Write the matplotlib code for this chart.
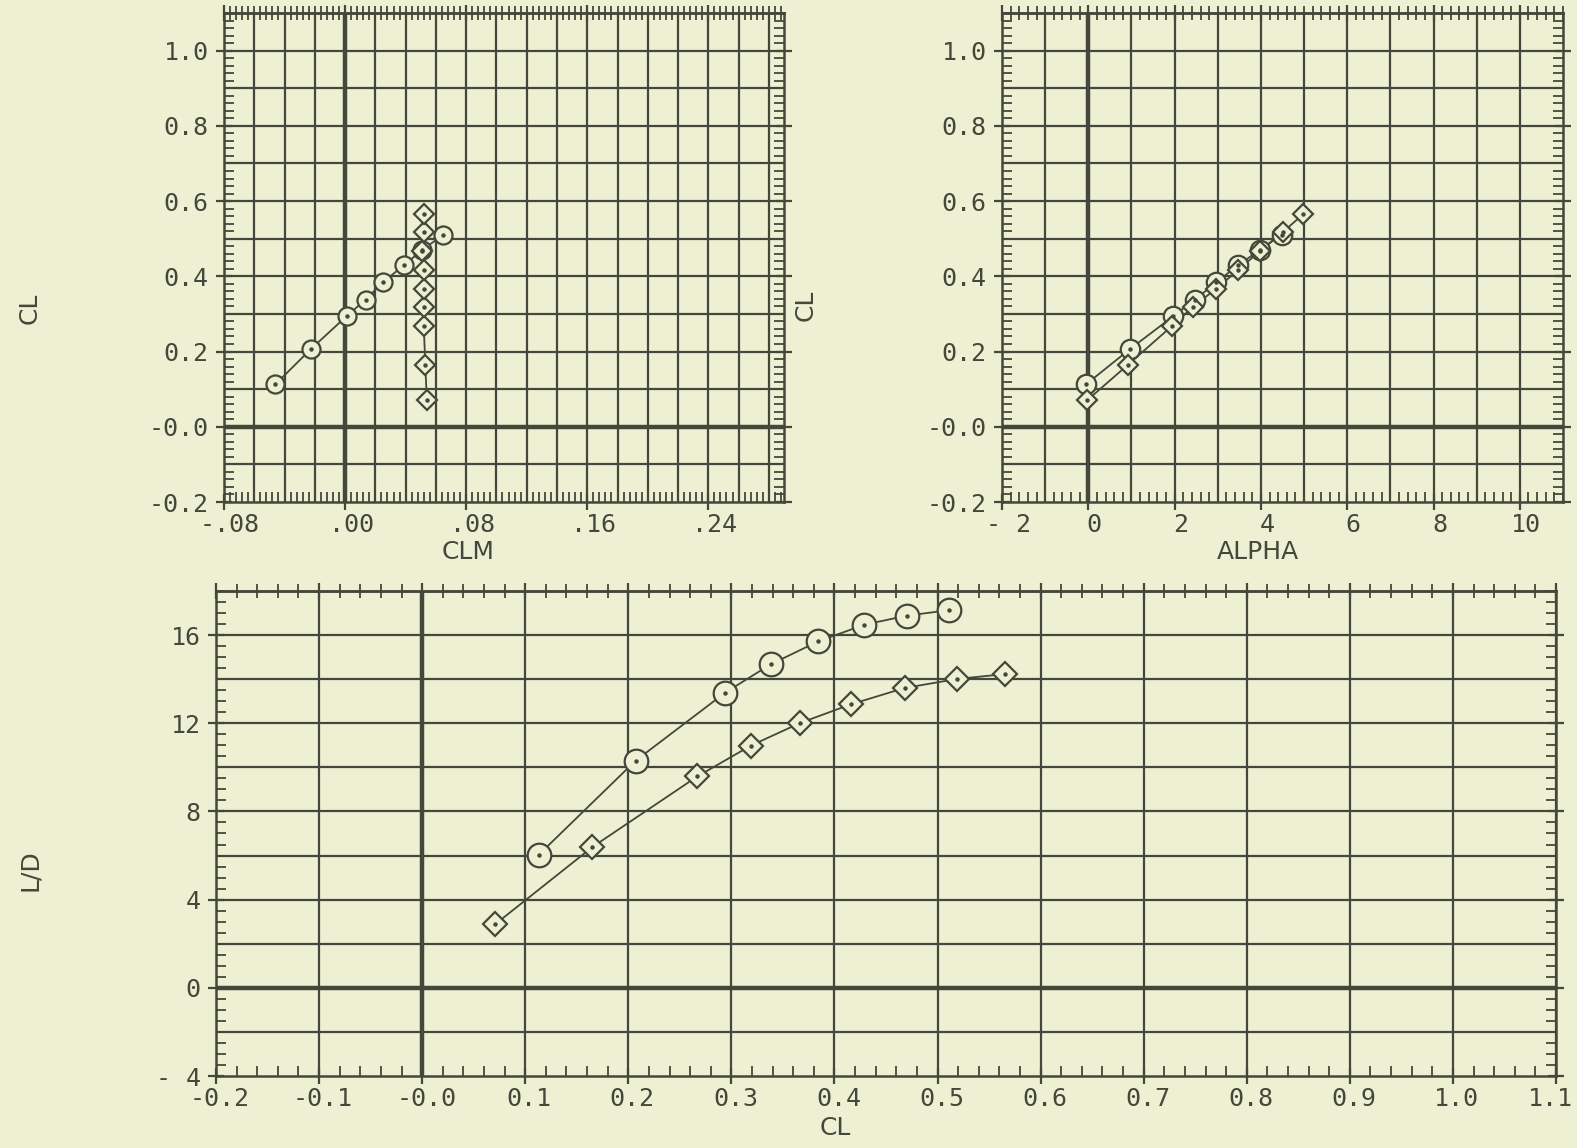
import numpy as np
import matplotlib
matplotlib.use('Agg')
import matplotlib.pyplot as plt
import matplotlib.transforms as mtransforms
from matplotlib.ticker import FixedLocator, FixedFormatter, NullFormatter

# ---------------- data ----------------
# series 1 (circles)
alpha_circ = [-0.05, 0.97, 1.97, 2.47, 2.97, 3.46, 3.98, 4.48]
cl_circ = [0.113, 0.207, 0.294, 0.338, 0.384, 0.429, 0.470, 0.511]
clm_circ = [-0.046, -0.0225, 0.001, 0.0135, 0.025, 0.0387, 0.051, 0.065]
ld_circ = [6.03, 10.30, 13.39, 14.67, 15.71, 16.47, 16.88, 17.13]

# series 2 (diamonds)
alpha_diam = [-0.02, 0.92, 1.93, 2.43, 2.96, 3.47, 3.98, 4.52, 4.98]
cl_diam = [0.071, 0.165, 0.267, 0.319, 0.367, 0.416, 0.468, 0.519, 0.565]
clm_diam = [0.054, 0.053, 0.052, 0.052, 0.052, 0.052, 0.051, 0.052, 0.052]
ld_diam = [2.89, 6.38, 9.59, 10.99, 12.02, 12.86, 13.60, 14.01, 14.23]

# tick labels
clm_ticks = [-0.08, 0.0, 0.08, 0.16, 0.24]
clm_labels = ['-.08', '.00', '.08', '.16', '.24']
alpha_ticks = [-2, 0, 2, 4, 6, 8, 10]
alpha_labels = ['- 2', '0', '2', '4', '6', '8', '10']
cl_yticks = [-0.2, 0.0, 0.2, 0.4, 0.6, 0.8, 1.0]
cl_ylabels = ['-0.2', '-0.0', '0.2', '0.4', '0.6', '0.8', '1.0']
cl_xticks = [-0.2, -0.1, 0.0, 0.1, 0.2, 0.3, 0.4, 0.5, 0.6, 0.7, 0.8, 0.9, 1.0, 1.1]
cl_xlabels = ['-0.2', '-0.1', '-0.0', '0.1', '0.2', '0.3', '0.4', '0.5',
              '0.6', '0.7', '0.8', '0.9', '1.0', '1.1']
ld_ticks = [-4, 0, 4, 8, 12, 16]
ld_labels = ['- 4', '0', '4', '8', '12', '16']

# ---------------- style ----------------
BG = '#eef0d4'
INK = '#45473a'
MONO = 'DejaVu Sans Mono'
SANS = 'DejaVu Sans'
TICKFS = 18
LABFS = 18

W, H = 1577, 1148
fig = plt.figure(figsize=(W / 100, H / 100), dpi=100, facecolor=BG)


def px_axes(x0, y0, x1, y1):
    return fig.add_axes([x0 / W, 1 - y1 / H, (x1 - x0) / W, (y1 - y0) / H])


def style(ax, xlim, ylim, xgrid, ygrid, xminor, yminor,
          xticks, xlabels, yticks, ylabels, xoff=6, last_off=None):
    ax.set_facecolor(BG)
    ax.set_xlim(xlim)
    ax.set_ylim(ylim)
    for x in xgrid:
        ax.axvline(x, color=INK, lw=3.2 if abs(x) < 1e-9 else 1.6, zorder=1)
    for y in ygrid:
        ax.axhline(y, color=INK, lw=3.2 if abs(y) < 1e-9 else 1.6, zorder=1)
    for s in ax.spines.values():
        s.set_color(INK)
        s.set_linewidth(1.8)
    ax.xaxis.set_major_locator(FixedLocator(xticks))
    ax.xaxis.set_major_formatter(FixedFormatter(xlabels))
    ax.yaxis.set_major_locator(FixedLocator(yticks))
    ax.yaxis.set_major_formatter(FixedFormatter(ylabels))
    ax.xaxis.set_minor_locator(FixedLocator(xminor))
    ax.yaxis.set_minor_locator(FixedLocator(yminor))
    ax.tick_params(which='major', direction='inout', length=12, width=1.6,
                   color=INK, labelcolor=INK, labelsize=TICKFS,
                   top=False, right=True)
    ax.tick_params(axis='x', which='major', pad=2)
    ax.tick_params(axis='y', which='major', pad=5)
    ax.tick_params(which='minor', direction='in', length=7, width=1.3,
                   color=INK, top=False, right=True)
    for lab in ax.get_xticklabels() + ax.get_yticklabels():
        lab.set_family(MONO)
    labs = ax.get_xticklabels()
    for i, lab in enumerate(labs):
        dx = xoff
        if last_off is not None and i == len(labs) - 1:
            dx = last_off
        off = mtransforms.ScaledTranslation(dx / 100, 0, fig.dpi_scale_trans)
        lab.set_transform(lab.get_transform() + off)
    sec = ax.secondary_xaxis('top')
    sec.xaxis.set_major_locator(FixedLocator(xticks))
    sec.xaxis.set_major_formatter(NullFormatter())
    sec.xaxis.set_minor_locator(FixedLocator(xminor))
    sec.tick_params(which='major', direction='inout', length=12, width=1.6, color=INK)
    sec.tick_params(which='minor', direction='inout', length=10, width=1.3, color=INK)
    sec.spines['top'].set_color(INK)
    sec.spines['top'].set_linewidth(1.8)


def series(ax, x, y, marker, ms):
    ax.plot(x, y, '-', color=INK, lw=1.3, zorder=3)
    ax.plot(x, y, linestyle='none', marker=marker, ms=ms, mfc=BG, mec=INK,
            mew=1.6, zorder=4)
    ax.plot(x, y, linestyle='none', marker='o', ms=2.2, mfc=INK, mec=INK,
            zorder=5)


# ---------------- top-left: CL vs CLM ----------------
ax1 = px_axes(224, 13, 784, 502)
style(ax1, (-0.08, 0.29), (-0.2, 1.1),
      np.arange(-0.06, 0.29, 0.02), np.arange(-0.1, 1.05, 0.1),
      np.arange(-0.08, 0.2901, 0.004), np.arange(-0.2, 1.1001, 0.02),
      clm_ticks, clm_labels, cl_yticks, cl_ylabels)
series(ax1, clm_circ, cl_circ, 'o', 13)
series(ax1, clm_diam, cl_diam, 'D', 10)

# ---------------- top-right: CL vs ALPHA ----------------
ax2 = px_axes(1002, 13, 1563, 502)
style(ax2, (-2, 11), (-0.2, 1.1),
      np.arange(-1, 11, 1), np.arange(-0.1, 1.05, 0.1),
      np.arange(-2, 11.001, 0.2), np.arange(-0.2, 1.1001, 0.02),
      alpha_ticks, alpha_labels, cl_yticks, cl_ylabels)
series(ax2, alpha_circ, cl_circ, 'o', 14)
series(ax2, alpha_diam, cl_diam, 'D', 10)

# ---------------- bottom: L/D vs CL ----------------
ax3 = px_axes(216, 591, 1556, 1076)
style(ax3, (-0.2, 1.1), (-4, 18),
      np.arange(-0.1, 1.1, 0.1), np.arange(-2, 18, 2),
      np.arange(-0.2, 1.1001, 0.02), np.arange(-4, 18.001, 0.5),
      cl_xticks, cl_xlabels, ld_ticks, ld_labels, xoff=4, last_off=-6)
series(ax3, cl_circ, ld_circ, 'o', 17)
series(ax3, cl_diam, ld_diam, 'D', 12)

# ---------------- axis titles ----------------
def ftext(x, y, s, rot=0):
    fig.text(x / W, 1 - y / H, s, rotation=rot, ha='center', va='center',
             fontsize=LABFS, family=SANS, color=INK)


ftext(468, 552, 'CLM')
ftext(1258, 552, 'ALPHA')
ftext(835, 1128, 'CL')
ftext(30, 308, 'CL', 90)
ftext(806, 305, 'CL', 90)
ftext(30, 870, 'L/D', 90)

fig.savefig('out.png', dpi=100, facecolor=BG)
